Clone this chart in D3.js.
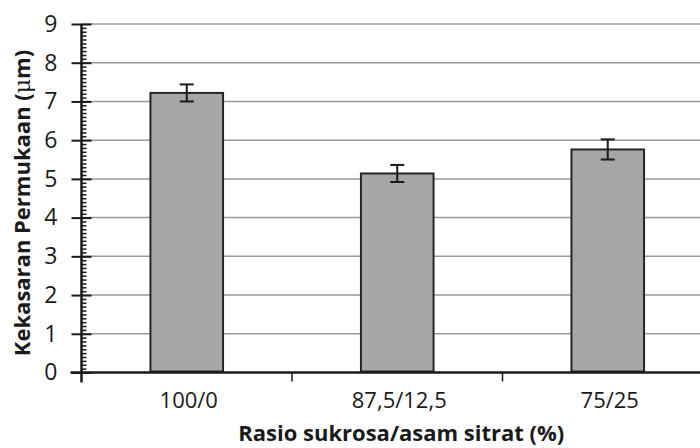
<!DOCTYPE html>
<html>
<head>
<meta charset="utf-8">
<script src="https://cdn.jsdelivr.net/npm/d3@7"></script>
<style>
  body{margin:0;background:#fff;}
  text{font-family:"Open Sans",sans-serif;fill:#1a1a1a;}
  .grid line{stroke:#9a9a9a;stroke-width:1.5;}
  .bar{fill:#a6a6a6;stroke:#262626;stroke-width:2;}
  .err{stroke:#1a1a1a;stroke-width:2;fill:none;}
</style>
</head>
<body>
<div id="chart"></div>
<script>
// data
var categories=["100/0","87,5/12,5","75/25"];
var roughness=[7.22,5.14,5.76];
var roughnessErr=[0.22,0.22,0.26];
var yTicks=[0,1,2,3,4,5,6,7,8,9];

var W=700,H=448;
var pLeft=81.5,pRight=713,pTop=24,pBottom=372.5; // plot area runs a bit past the right edge

var svg=d3.select('#chart')
		.append('svg')
		.attr('width',W)
		.attr('height',H);
svg.append('rect').attr('width',W).attr('height',H).attr('fill','#fff');

var y=d3.scaleLinear()
		.domain([0,9])
		.range([pBottom,pTop]);

var x=d3.scaleBand()
		.domain(categories)
		.range([pLeft,pRight])
		.paddingInner(0.655)
		.paddingOuter(0.3275);
var step=x.step();

/***** gridlines ************************/
svg.append('g')
	.attr('class','grid')
	.selectAll('line')
	.data(yTicks.slice(1))
	.enter()
	.append('line')
	.attr('x1',pLeft)
	.attr('x2',W)
	.attr('y1',function(d){return y(d)})
	.attr('y2',function(d){return y(d)});

/***** bars ************************/
var data=categories.map(function(c,i){return {cat:c,val:roughness[i],err:roughnessErr[i]}});

svg.selectAll('.bar')
	.data(data)
	.enter()
	.append('rect')
	.attr('class','bar')
	.attr('x',function(d){return x(d.cat)})
	.attr('y',function(d){return y(d.val)})
	.attr('width',x.bandwidth())
	.attr('height',function(d){return y(0)-y(d.val)-1});

//error bars
var eg=svg.selectAll('.errg')
	.data(data)
	.enter()
	.append('g')
	.attr('class','err')
	.attr('transform',function(d){return 'translate('+(x(d.cat)+x.bandwidth()/2)+',0)'});
eg.append('line')
	.attr('x1',0).attr('x2',0)
	.attr('y1',function(d){return y(d.val+d.err)})
	.attr('y2',function(d){return y(d.val-d.err)});
eg.append('line')
	.attr('x1',-7).attr('x2',7)
	.attr('y1',function(d){return y(d.val+d.err)})
	.attr('y2',function(d){return y(d.val+d.err)});
eg.append('line')
	.attr('x1',-7).attr('x2',7)
	.attr('y1',function(d){return y(d.val-d.err)})
	.attr('y2',function(d){return y(d.val-d.err)});

/***** y axis ************************/
var minor=d3.range(0,90).map(function(i){return i/10}).filter(function(v){return Math.round(v*10)%10!==0});
var yMinor=d3.axisRight(y)
		.tickValues(minor)
		.tickSize(5)
		.tickFormat('');
svg.append('g')
	.attr('transform','translate('+pLeft+',0)')
	.call(yMinor)
	.call(function(g){g.select('.domain').remove()})
	.selectAll('line').attr('stroke','#1a1a1a').attr('stroke-width',1.5);

var yAxis=d3.axisLeft(y)
		.tickValues(yTicks)
		.tickSize(10)
		.tickPadding(14);
var ya=svg.append('g')
	.attr('transform','translate('+pLeft+',0)')
	.call(yAxis);
ya.select('.domain').remove();
ya.selectAll('.tick line').attr('x2',10).attr('x1',-10).attr('stroke','#1a1a1a').attr('stroke-width',2);
ya.selectAll('.tick text')
	.style('font-size','23px')
	.attr('fill','#1a1a1a');
ya.append('line')
	.attr('x1',0).attr('x2',0)
	.attr('y1',pTop).attr('y2',pBottom+10)
	.attr('stroke','#1a1a1a').attr('stroke-width',2.5);

/***** x axis ************************/
var xa=svg.append('g')
	.attr('transform','translate(0,'+pBottom+')');
xa.append('line')
	.attr('x1',pLeft-11).attr('x2',W)
	.attr('stroke','#1a1a1a').attr('stroke-width',2.5);
xa.selectAll('.xtick')
	.data(categories.slice(1))
	.enter()
	.append('line')
	.attr('x1',function(d){return x(d)-step*0.655/2})
	.attr('x2',function(d){return x(d)-step*0.655/2})
	.attr('y1',0).attr('y2',9)
	.attr('stroke','#1a1a1a').attr('stroke-width',1.5);
xa.selectAll('.xlbl')
	.data(categories)
	.enter()
	.append('text')
	.attr('x',function(d){return x(d)+x.bandwidth()/2+2})
	.attr('y',35)
	.attr('text-anchor','middle')
	.style('font-size','22px')
	.text(function(d){return d});

/***** titles ************************/
svg.append('text')
	.attr('x',(pLeft+pRight)/2+4)
	.attr('y',441)
	.attr('text-anchor','middle')
	.style('font-size','22px')
	.style('font-weight','bold')
	.text('Rasio sukrosa/asam sitrat (%)');

var yt=svg.append('text')
	.attr('transform','translate(30,'+203+') rotate(-90)')
	.attr('text-anchor','middle')
	.style('font-size','22px')
	.style('font-weight','bold');
yt.append('tspan').text('Kekasaran Permukaan (');
yt.append('tspan').style('font-weight','normal').style('font-family','"DejaVu Serif",serif').text('\u03bc');
yt.append('tspan').text('m)');
</script>
</body>
</html>
